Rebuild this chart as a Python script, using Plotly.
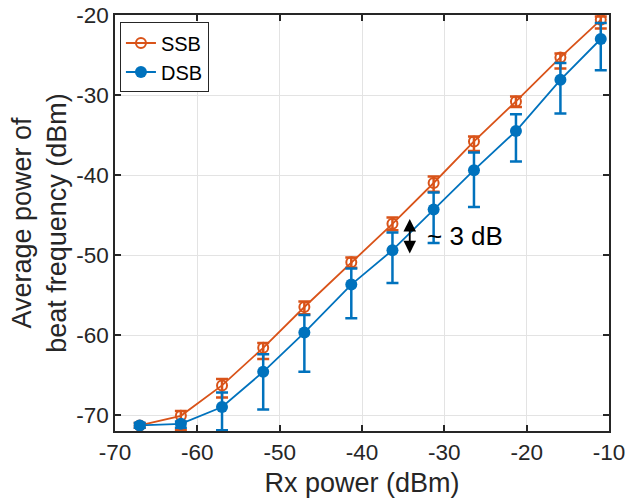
import plotly.graph_objects as go

rx_power = [-67, -62, -57, -52, -47, -41.3, -36.3, -31.3, -26.4, -21.3, -15.9, -11.0]

ssb = [-71.3, -70.1, -66.3, -61.6, -56.5, -50.9, -46.1, -41.0, -35.8, -30.8, -25.3, -20.6]
ssb_plus = [0.3, 0.6, 0.8, 0.6, 0.7, 0.6, 0.8, 0.8, 0.6, 0.6, 0.5, 0.4]
ssb_minus = [0.3, 1.8, 1.5, 1.4, 0.9, 0.7, 0.8, 1.1, 1.2, 0.7, 1.4, 1.1]

dsb = [-71.3, -71.1, -69.0, -64.6, -59.7, -53.7, -49.4, -44.3, -39.4, -34.5, -28.1, -23.0]
dsb_plus = [0.3, 0.3, 1.8, 2.2, 2.2, 2.0, 2.2, 2.1, 2.2, 2.1, 2.1, 2.0]
dsb_minus = [0.3, 0.5, 2.9, 4.7, 4.9, 4.2, 4.1, 4.2, 4.6, 3.8, 4.2, 3.9]

x_ticks = [-70, -60, -50, -40, -30, -20, -10]
y_ticks = [-70, -60, -50, -40, -30, -20]

ORANGE = "#D95319"
BLUE = "#0072BD"
FONT = "Liberation Sans, Arial, sans-serif"
TICK_FS = 22.5
TITLE_FS = 27

fig = go.Figure()
fig.add_trace(go.Scatter(
    x=rx_power, y=ssb, name="SSB", mode="lines+markers",
    line=dict(color=ORANGE, width=1.8),
    marker=dict(symbol="circle-open", size=10, color=ORANGE, line=dict(width=2, color=ORANGE)),
    error_y=dict(type="data", symmetric=False, array=ssb_plus, arrayminus=ssb_minus,
                 color=ORANGE, thickness=2.5, width=6),
))
fig.add_trace(go.Scatter(
    x=rx_power, y=dsb, name="DSB", mode="lines+markers",
    line=dict(color=BLUE, width=1.8),
    marker=dict(symbol="circle", size=12, color=BLUE),
    error_y=dict(type="data", symmetric=False, array=dsb_plus, arrayminus=dsb_minus,
                 color=BLUE, thickness=2.5, width=6),
))

# double-headed arrow annotation
fig.add_annotation(
    x=-34.2, y=-49.8, ax=-34.2, ay=-45.3, xref="x", yref="y", axref="x", ayref="y",
    showarrow=True, arrowhead=2, startarrowhead=2, arrowside="end+start",
    arrowwidth=1.8, arrowsize=1.4, startarrowsize=1.4, arrowcolor="black", text="",
)
fig.add_annotation(
    x=-32.3, y=-47.6, xref="x", yref="y", text="~ 3 dB", showarrow=False,
    xanchor="left", yanchor="middle", font=dict(family=FONT, size=26, color="black"),
)

axis_common = dict(
    showline=True, linecolor="#262626", linewidth=1.5, mirror="ticks",
    ticks="inside", ticklen=6, tickwidth=1.5, tickcolor="#262626",
    showgrid=True, gridcolor="#e3e3e3", gridwidth=1, zeroline=False,
    tickfont=dict(family=FONT, size=TICK_FS, color="#262626"),
    ticklabeloverflow="allow", automargin=False,
)

fig.update_layout(
    width=625, height=504,
    margin=dict(l=115, r=16, t=15, b=73),
    paper_bgcolor="white", plot_bgcolor="white",
    font=dict(family=FONT, size=TICK_FS, color="#262626"),
    xaxis=dict(range=[-70, -10], tickvals=x_ticks, ticktext=[str(v) for v in x_ticks],
               title=dict(text="Rx power (dBm)", font=dict(family=FONT, size=TITLE_FS, color="#262626"), standoff=9),
               **axis_common),
    yaxis=dict(range=[-72, -20], tickvals=y_ticks, ticktext=[str(v) for v in y_ticks],
               title=dict(text="Average power of<br>beat frequency (dBm)", font=dict(family=FONT, size=TITLE_FS, color="#262626"), standoff=2),
               **axis_common),
    legend=dict(x=0.01, y=0.982, xanchor="left", yanchor="top",
                bgcolor="white", bordercolor="#262626", borderwidth=1,
                font=dict(family=FONT, size=20, color="black"),
                tracegroupgap=0, itemwidth=30),
    showlegend=True,
)

fig.write_html("out.html", config={"displayModeBar": False},
               post_script="document.body.style.margin='0';")
